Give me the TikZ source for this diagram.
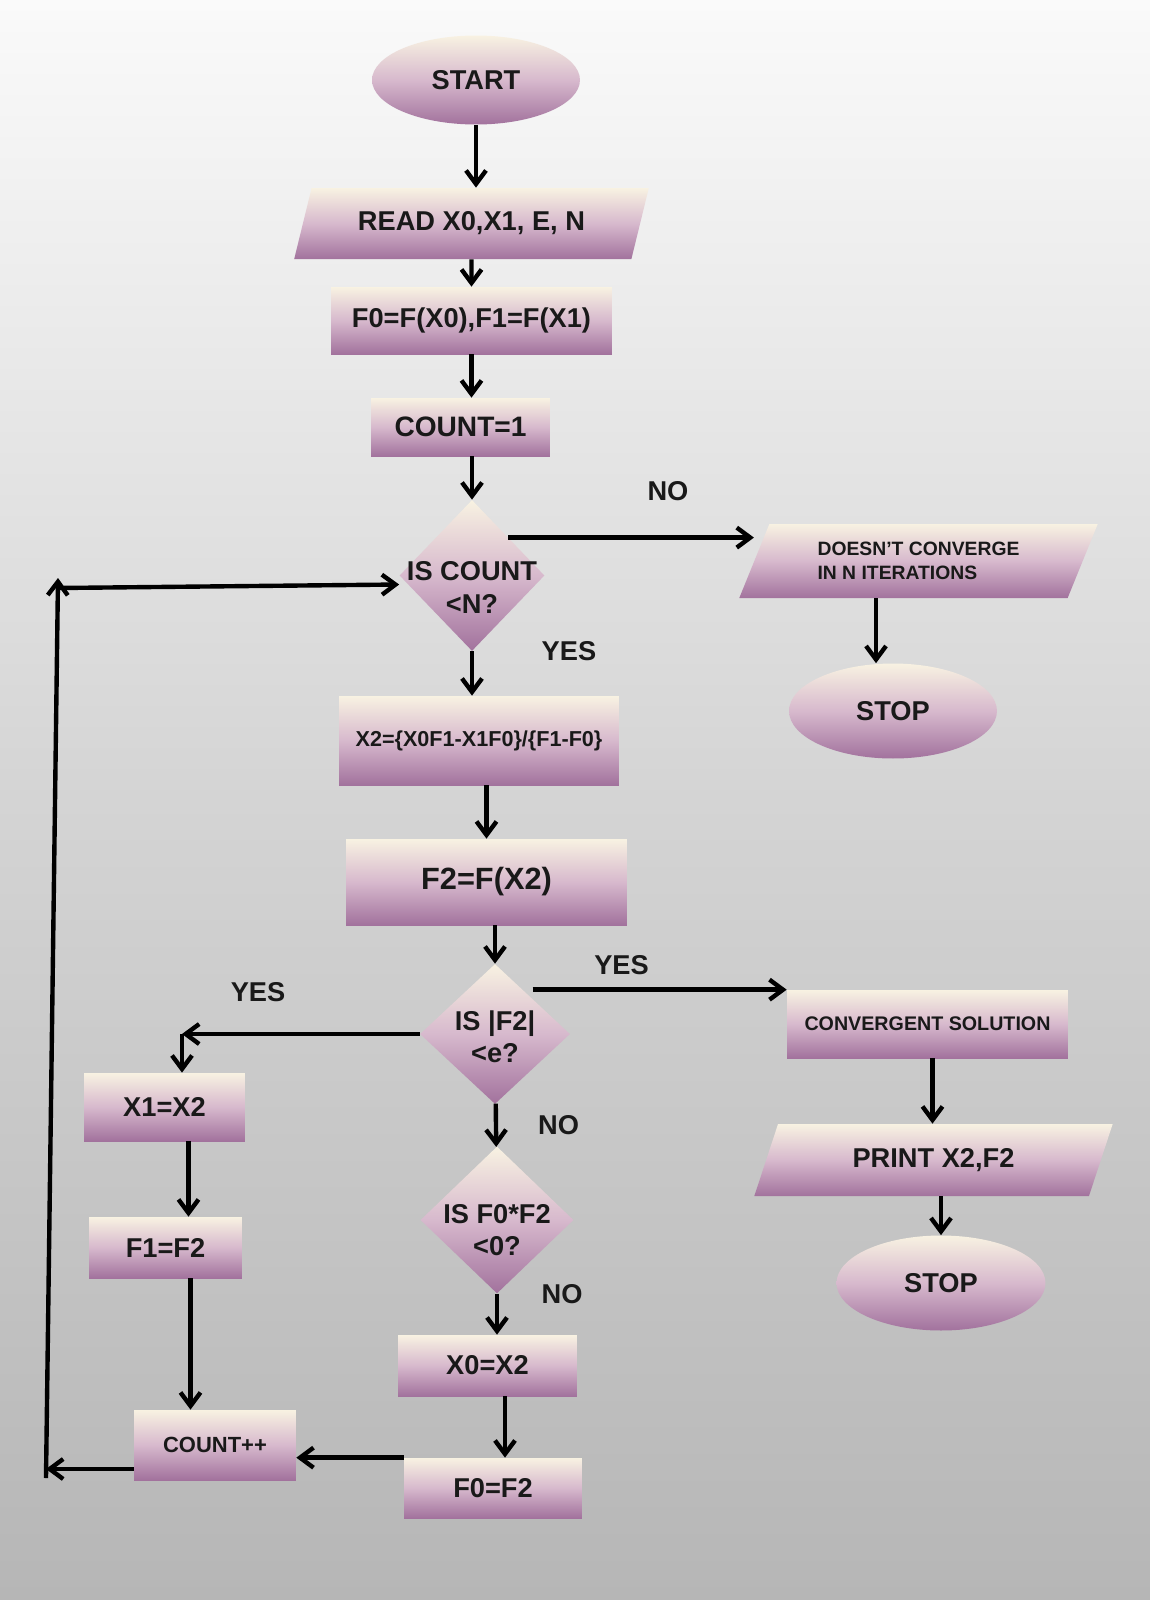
\documentclass[tikz,border=0pt]{standalone}
\usepackage{fontspec}
\setmainfont{Liberation Sans}
\usepackage{tikz}
\usetikzlibrary{arrows.meta,positioning,shapes.geometric}

\definecolor{nodetop}{HTML}{F8F2E2}
\definecolor{nodemid}{HTML}{D7B9CD}
\definecolor{nodebot}{HTML}{A2729D}
\definecolor{bgtop}{HTML}{FAFAFA}
\definecolor{bgmid}{HTML}{D4D4D4}
\definecolor{bgbot}{HTML}{B6B6B6}

\begin{document}
\begin{tikzpicture}[x=0.02cm, y=-0.02cm, >={Straight Barb[length=2.7mm,width=4mm]},
    every node/.style={font=\fontsize{15.5}{18.5}\selectfont\bfseries, text=black!90, align=center, inner sep=0pt},
    purplefill/.style={top color=nodetop, bottom color=nodebot, middle color=nodemid},
    procbox/.style={rectangle, purplefill},
    iobox/.style={trapezium, trapezium left angle=62, trapezium right angle=118, trapezium stretches=true, purplefill},
    endbox/.style={ellipse, purplefill},
    decbox/.style={diamond, purplefill},
    flow/.style={->, line width=2.5pt}]
    \fill[top color=bgtop, bottom color=bgbot, middle color=bgmid] (0,0) rectangle (1150,1600);
    \useasboundingbox (0,0) rectangle (1150,1600);

    % main column
    \node[endbox, minimum width=4.16cm, minimum height=1.78cm] (start) at (476,80) {START};
    \node[iobox, minimum width=7.1cm, minimum height=1.42cm] (read) at (471.5,223.5) {READ X0,X1, E, N};
    \node[procbox, minimum width=5.62cm, minimum height=1.34cm] (f0f1) at (471.5,320.5) {F0=F(X0),F1=F(X1)};
    \node[procbox, minimum width=3.58cm, minimum height=1.16cm, font=\fontsize{16}{19}\selectfont\bfseries] (cnt) at (460.5,427) {COUNT=1};
    \node[decbox, minimum width=2.9cm, minimum height=3.02cm, label={[align=center, yshift=-0.24cm]center:{IS COUNT\\<N?}}] (cond1) at (472,575.5) {};
    \node[procbox, minimum width=5.6cm, minimum height=1.78cm, font=\fontsize{12.3}{15}\selectfont\bfseries] (newx) at (479,740.5) {X2=\{X0F1-X1F0\}/\{F1-F0\}};
    \node[procbox, minimum width=5.62cm, minimum height=1.72cm, font=\fontsize{17.5}{20}\selectfont\bfseries] (newf) at (486.5,882) {F2=F(X2)};
    \node[decbox, minimum width=3cm, minimum height=2.8cm, label={[align=center, yshift=-0.06cm]center:{IS |F2|\\<e?}}] (cond2) at (495,1034) {};
    \node[decbox, minimum width=3.06cm, minimum height=2.94cm, label={[align=center, yshift=-0.2cm]center:{IS F0*F2\\<0?}}] (cond3) at (497,1220) {};
    \node[procbox, minimum width=3.58cm, minimum height=1.22cm] (setx0) at (487.5,1365.5) {X0=X2};
    \node[procbox, minimum width=3.56cm, minimum height=1.2cm] (setf0) at (493,1488) {F0=F2};

    % right side
    \node[iobox, minimum width=7.18cm, minimum height=1.48cm, font=\fontsize{11}{14}\selectfont\bfseries, align=left] (noconv) at (918.5,561) {DOESN'T CONVERGE\\IN N ITERATIONS};
    \node[endbox, minimum width=4.16cm, minimum height=1.9cm] (stopa) at (893,711) {STOP};
    \node[procbox, minimum width=5.62cm, minimum height=1.36cm, font=\fontsize{11.2}{14}\selectfont\bfseries] (conv) at (927.5,1024) {CONVERGENT SOLUTION};
    \node[iobox, minimum width=7.18cm, minimum height=1.44cm] (print) at (933.5,1160) {PRINT X2,F2};
    \node[endbox, minimum width=4.18cm, minimum height=1.9cm] (stopb) at (941,1283) {STOP};

    % left side
    \node[procbox, minimum width=3.22cm, minimum height=1.36cm] (setx1) at (164.5,1107) {X1=X2};
    \node[procbox, minimum width=3.06cm, minimum height=1.22cm] (setf1) at (165.5,1247.5) {F1=F2};
    \node[procbox, minimum width=3.24cm, minimum height=1.4cm, font=\fontsize{12.5}{15}\selectfont\bfseries] (incr) at (215,1445) {COUNT++};

    \draw[flow] (start) -- (start |- read.north);
    \draw[flow] (read) -- (f0f1);
    \draw[flow] (f0f1) -- (f0f1 |- cnt.north);
    \draw[flow] (cnt.south -| cond1) -- (cond1);
    \draw[flow] (cond1.north east) -- (cond1.north east -| noconv.west) node[pos=0.65, above=0.7cm] {NO};
    \draw[flow] ([xshift=-0.85cm]noconv.south) -- ([xshift=-0.85cm]noconv.south |- stopa.north);
    \draw[flow] (cond1) -- (cond1 |- newx.north) node[pos=0, right=1.35cm] {YES};
    \draw[flow] (newx.south -| newf) -- (newf);
    \draw[flow] (newf.south -| cond2) -- (cond2);
    \draw[flow] (cond2.north east |- conv.north west) -- (conv.north west) node[pos=0.35, above=0.25cm] {YES};
    \draw[flow] ([xshift=0.1cm]conv.south) -- ([xshift=0.1cm]conv.south |- print.north);
    \draw[flow] (print.south -| stopb) -- (stopb);

    % yes branch of |F2|<e
    \coordinate (x1in) at ([xshift=0.35cm]setx1.north);
    \coordinate (yesturn) at (x1in |- cond2.west);
    \draw[flow] (cond2.west) -- (yesturn) node[pos=0.68, above=0.6cm] {YES};
    \draw[flow] (yesturn) -- (x1in);
    \draw[flow] ([xshift=0.48cm]setx1.south) -- ([xshift=0.48cm]setx1.south |- setf1.north);
    \draw[flow] ([xshift=0.5cm]setf1.south) -- ([xshift=0.5cm]setf1.south |- incr.north);

    % no branches
    \draw[flow] (cond2) -- (cond3) node[midway, right=0.8cm] {NO};
    \draw[flow] (cond3) -- (cond3 |- setx0.north) node[pos=0, right=0.85cm] {NO};
    \draw[flow] ([xshift=0.35cm]setx0.south) -- ([xshift=0.35cm]setx0.south |- setf0.north);
    \draw[flow] (setf0.north west) -- (setf0.north west -| incr.east);

    % back to the count test
    \coordinate (ppout) at ([yshift=-0.48cm]incr.west);
    \coordinate (loopa) at (46,1478);
    \coordinate (loopb) at (58,578);
    \draw[flow] (ppout) -- (ppout -| loopa);
    \draw[flow] (loopa) -- (loopb);
    \draw[flow] ([yshift=-0.2cm]loopb) -- ([yshift=-0.18cm]cond1.west);
\end{tikzpicture}
\end{document}
